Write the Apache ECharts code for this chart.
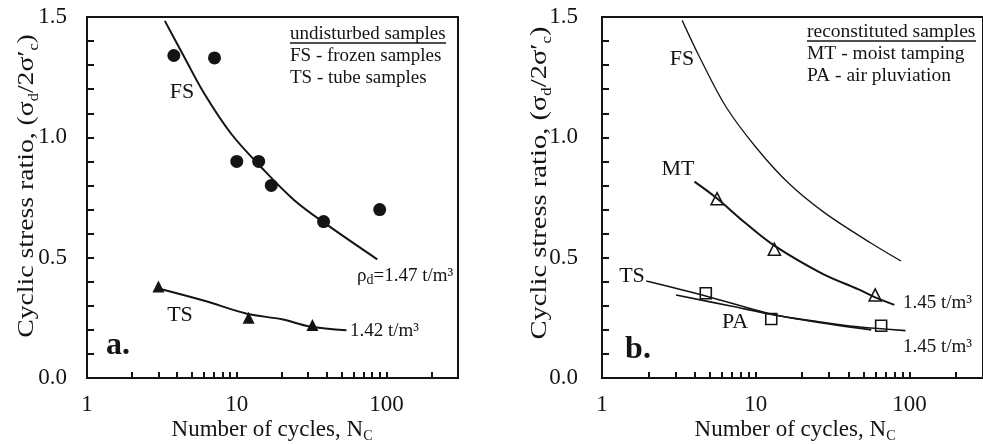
<!DOCTYPE html>
<html>
<head>
<meta charset="utf-8">
<script src="https://cdn.jsdelivr.net/npm/echarts@6/dist/echarts.min.js"></script>
<style>html,body{margin:0;padding:0;background:#fff}#c{width:983px;height:444px}</style>
</head>
<body>
<div id="c"></div>
<script>
// ---- data (N cycles, cyclic stress ratio) ----
const xTickLabels = [1, 10, 100];
const yTickLabels = [0.0, 0.5, 1.0, 1.5];
const majorTicks = [10, 100];
const minorTicks = [2,3,4,5,6,7,8,9,20,30,40,50,60,70,80,90,200];

// panel a (undisturbed)
const fsPointsA = [[3.8,1.34],[7.1,1.33],[10,0.90],[14,0.90],[17,0.80],[38,0.65],[90,0.70]];
const fsCurveA  = [[3.31,1.484],[4.45,1.335],[6.05,1.183],[9.12,1.017],[14.45,0.878],[24.1,0.74],[40.2,0.636],[86.7,0.493]];
const tsPointsA = [[3,0.38],[12,0.25],[32,0.22]];
const tsCurveA  = [[3,0.372],[6,0.322],[11.7,0.267],[20,0.244],[30.8,0.214],[54,0.198]];

// panel b (reconstituted)
const fsCurveB  = [[3.32,1.486],[4.29,1.336],[6.38,1.128],[9.95,0.961],[16.3,0.81],[28.2,0.685],[56.3,0.56],[87.9,0.486]];
const mtCurveB  = [[3.99,0.816],[5.5,0.75],[8.6,0.643],[13.2,0.55],[26.8,0.435],[46.2,0.369],[59.7,0.335],[79.6,0.304]];
const mtPointsB = [[5.6,0.745],[13.2,0.535],[59.7,0.345]];
const tsCurveB  = [[1.94,0.403],[4.73,0.341],[12.7,0.265],[25,0.235],[46,0.213],[94,0.197]];
const paCurveB  = [[3.03,0.345],[7.0,0.298],[12.7,0.264],[25,0.232],[56.3,0.2]];
const paPointsB = [[4.73,0.352],[12.6,0.245],[65.3,0.217]];

const FONT = 'Liberation Serif';
const INK = '#141414';

const chart = echarts.init(document.getElementById('c'), null, {renderer:'canvas'});

function xAxisDef(i){
  return {
    type:'log', logBase:10, min:1, max:300, gridIndex:i,
    axisLine:{lineStyle:{color:INK,width:2}},
    axisTick:{show:true, inside:true, length:6, customValues: majorTicks.concat(minorTicks),
      lineStyle:{color:INK,width:2}},
    axisLabel:{color:INK,fontFamily:FONT,fontSize:23,margin:15,showMaxLabel:false,
      formatter:v=> xTickLabels.some(t=>Math.abs(t-v)<1e-6*t) ? String(Math.round(v)) : ''},
    splitLine:{show:false}
  };
}
function yAxisDef(i, margin){
  return {
    type:'value', min:0, max:1.5, interval:0.1, gridIndex:i,
    axisLine:{show:true,lineStyle:{color:INK,width:2}},
    axisTick:{inside:true,length:7,lineStyle:{color:INK,width:2}},
    axisLabel:{color:INK,fontFamily:FONT,fontSize:23,margin:margin,
      formatter:v=> yTickLabels.some(t=>Math.abs(t-v)<1e-6) ? v.toFixed(1) : ''},
    splitLine:{show:false}
  };
}
function curve(i, data, w){
  return {type:'line', xAxisIndex:i, yAxisIndex:i, data:data, smooth:0.35,
    showSymbol:false, symbol:'none', lineStyle:{color:INK,width:w}, z:3};
}
function pts(i, data, symbol, size, hollow){
  return {type:'scatter', xAxisIndex:i, yAxisIndex:i, data:data, symbol:symbol, symbolSize:size,
    itemStyle: hollow ? {color:'rgba(255,255,255,0)', borderColor:INK, borderWidth:1.6, opacity:1} : {color:INK, opacity:1},
    z:4};
}

const rich = {
  sub:{fontSize:14, fontFamily:FONT, lineHeight:12, verticalAlign:'bottom', fill:INK, color:INK}
};
function txt(x, y, text, size, align, opts){
  opts = opts || {};
  return Object.assign({
    type:'text', x:x, y:y, silent:true, z:10,
    style:{text:text, fill:INK, fontFamily:FONT, fontSize:size, fontWeight:opts.bold?'bold':'normal',
      align:align, textAlign:align, verticalAlign:'middle', textVerticalAlign:'middle',
      lineHeight:size+4, rich:rich}
  }, opts.extra || {});
}

const graphics = [
  txt(290,34,'undisturbed samples',19,'left'),
  {type:'line', shape:{x1:290,y1:43,x2:446,y2:43}, style:{stroke:INK,lineWidth:1.3}, silent:true},
  txt(290,56,'FS - frozen samples',19,'left'),
  txt(290,78,'TS - tube samples',19,'left'),
  txt(182,92,'FS',22,'center'),
  txt(357,276,'ρ{sub|d}=1.47 t/m³',19,'left'),
  txt(180,315,'TS',22,'center'),
  txt(350,331,'1.42 t/m³',19,'left'),
  txt(118,346,'a.',32,'center',{bold:true}),
  txt(27,186,'Cyclic stress ratio, (σ{sub|d}/2σ′{sub|c})',24,'center',{extra:{rotation:Math.PI/2, scaleX:1.155}}),
  txt(272,430,'Number of cycles, N{sub|C}',23,'center'),
  txt(807,32,'reconstituted samples',19.5,'left'),
  {type:'line', shape:{x1:807,y1:41,x2:976,y2:41}, style:{stroke:INK,lineWidth:1.3}, silent:true},
  txt(807,54,'MT - moist tamping',19.5,'left'),
  txt(807,76,'PA - air pluviation',19.5,'left'),
  txt(682,59,'FS',22,'center'),
  txt(678,169,'MT',22,'center'),
  txt(632,276,'TS',22,'center'),
  txt(735,322,'PA',22,'center'),
  txt(903,303,'1.45 t/m³',19,'left'),
  txt(903,347,'1.45 t/m³',19,'left'),
  txt(638,350,'b.',32,'center',{bold:true}),
  txt(540,183,'Cyclic stress ratio, (σ{sub|d}/2σ′{sub|c})',24,'center',{extra:{rotation:Math.PI/2, scaleX:1.19}}),
  txt(795,430,'Number of cycles, N{sub|C}',23,'center')
];

const option = {
  animation:false,
  backgroundColor:'#fff',
  grid:[
    {left:87, top:17, width:371, height:361, show:true, borderColor:INK, borderWidth:2, backgroundColor:'rgba(0,0,0,0)'},
    {left:602, top:17, width:384, height:361, show:true, borderColor:INK, borderWidth:2, backgroundColor:'rgba(0,0,0,0)'}
  ],
  xAxis:[xAxisDef(0), xAxisDef(1)],
  yAxis:[yAxisDef(0,20), yAxisDef(1,24)],
  series:[
    curve(0, fsCurveA, 2), pts(0, fsPointsA, 'circle', 13, false),
    curve(0, tsCurveA, 2), pts(0, tsPointsA, 'triangle', 12, false),
    curve(1, fsCurveB, 1.3),
    curve(1, mtCurveB, 2), pts(1, mtPointsB, 'triangle', 12, true),
    curve(1, tsCurveB, 1.6),
    curve(1, paCurveB, 1.6), pts(1, paPointsB, 'rect', 11, true)
  ],
  graphic: graphics
};
chart.setOption(option);
</script>
</body>
</html>
